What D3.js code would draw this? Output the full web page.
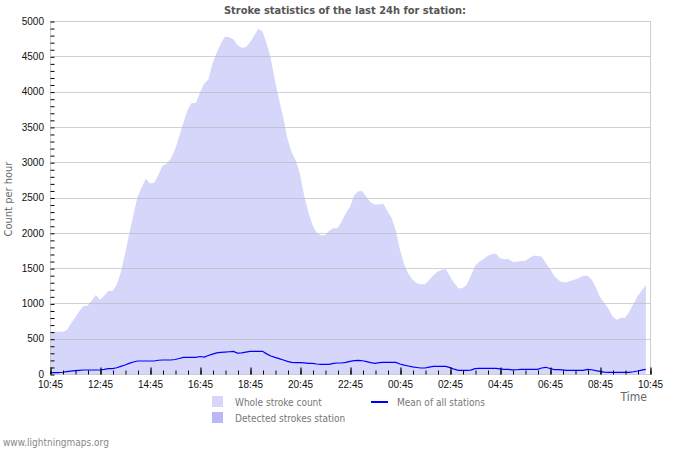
<!DOCTYPE html>
<html>
<head>
<meta charset="utf-8">
<script src="https://cdn.jsdelivr.net/npm/d3@7"></script>
<style>
  body { margin: 0; background: #fff; }
  svg { display: block; font-family: "DejaVu Sans Condensed", "DejaVu Sans", sans-serif; font-stretch: condensed; }
</style>
</head>
<body>
<svg id="chart" width="700" height="450"></svg>
<script>
// 24h window, one value every 10 minutes starting at 10:45
const startTime = new Date(2024, 5, 1, 10, 45);
const stepMinutes = 10;

// Whole stroke count (strokes per hour)
const wholeCount = [
  600, 600, 600, 600, 620, 710, 795, 885, 960, 965,
  1040, 1120, 1050, 1110, 1175, 1175, 1260, 1440, 1700, 1980,
  2250, 2510, 2640, 2770, 2700, 2710, 2820, 2950, 2980, 3050,
  3180, 3360, 3560, 3740, 3840, 3840, 3990, 4110, 4170, 4400,
  4550, 4680, 4780, 4770, 4740, 4660, 4620, 4630, 4700, 4790,
  4890, 4850, 4680, 4470, 4150, 3880, 3630, 3330, 3140, 3020,
  2830, 2530, 2290, 2110, 2000, 1965, 1965, 2030, 2063, 2063,
  2160, 2280, 2370, 2530, 2590, 2590, 2500, 2430, 2400, 2400,
  2410, 2310, 2210, 2030, 1760, 1550, 1420, 1340, 1290, 1270,
  1270, 1330, 1400, 1450, 1475, 1485, 1380, 1290, 1213, 1213,
  1265, 1390, 1530, 1590, 1625, 1670, 1700, 1705, 1640, 1628,
  1628, 1590, 1590, 1600, 1600, 1640, 1675, 1675, 1660, 1570,
  1490, 1390, 1330, 1300, 1300, 1320, 1340, 1360, 1392, 1392,
  1340, 1230, 1090, 1010, 925, 815, 770, 797, 797, 880,
  990, 1100, 1180, 1260
];

// Detected strokes of the station (none)
const detectedStation = [];

// Mean of all stations
const meanAll = [
  20, 20, 20, 25, 33, 40, 47, 52, 57, 57,
  57, 57, 57, 65, 75, 75, 88, 108, 128, 150,
  170, 184, 184, 184, 184, 184, 195, 198, 198, 198,
  205, 220, 236, 236, 236, 236, 248, 240, 262, 282,
  298, 305, 310, 315, 321, 295, 300, 310, 321, 321,
  321, 321, 285, 255, 235, 218, 198, 178, 165, 160,
  160, 157, 151, 151, 142, 137, 137, 137, 150, 156,
  156, 165, 178, 190, 193, 188, 175, 162, 152, 160,
  165, 165, 165, 165, 142, 125, 113, 100, 92, 85,
  85, 97, 109, 109, 109, 109, 90, 68, 52, 52,
  52, 55, 75, 80, 80, 80, 80, 80, 72, 66,
  66, 58, 60, 66, 66, 66, 66, 66, 85, 95,
  78, 61, 61, 58, 52, 52, 52, 52, 52, 66,
  60, 48, 38, 26, 24, 24, 24, 24, 24, 24,
  32, 42, 55, 66
];

const yTicks = [0, 500, 1000, 1500, 2000, 2500, 3000, 3500, 4000, 4500, 5000];
const legendItems = ["Whole stroke count", "Detected strokes station", "Mean of all stations"];

const svg = d3.select("#chart");
const plotLeft = 50, plotRight = 650, plotTop = 21, plotBottom = 374;

const endTime = d3.timeHour.offset(startTime, 24);
const x = d3.scaleTime().domain([startTime, endTime]).range([plotLeft, plotRight]);
const y = d3.scaleLinear().domain([0, 5000]).range([plotBottom, plotTop]);

const timeOf = i => d3.timeMinute.offset(startTime, i * stepMinutes);
const majorTimes = d3.range(13).map(k => d3.timeHour.offset(startTime, 2 * k));
const minorTimes = d3.range(49).map(k => d3.timeMinute.offset(startTime, 30 * k));

// title
svg.append("text")
  .attr("x", 345).attr("y", 14)
  .attr("text-anchor", "middle")
  .style("font-size", "11px").style("font-weight", "bold")
  .attr("fill", "#555")
  .text("Stroke statistics of the last 24h for station:");

// areas
const area = (data) => d3.area()
  .x((d, i) => x(timeOf(i)))
  .y0(plotBottom)
  .y1(d => y(d))(data);

svg.append("path")
  .attr("d", area(wholeCount))
  .attr("fill", "#d6d6fb");

if (detectedStation.length) {
  svg.append("path")
    .attr("d", area(detectedStation))
    .attr("fill", "#b8b8f8");
}

// grid lines
svg.append("g")
  .selectAll("line")
  .data(yTicks.filter(d => d > 0))
  .join("line")
  .attr("x1", plotLeft).attr("x2", plotRight)
  .attr("y1", d => Math.round(y(d)) + 0.5)
  .attr("y2", d => Math.round(y(d)) + 0.5)
  .attr("stroke", "#b4b4b4")
  .attr("stroke-opacity", 0.6);

// frame
svg.append("rect")
  .attr("x", plotLeft + 0.5).attr("y", plotTop + 0.5)
  .attr("width", plotRight - plotLeft).attr("height", plotBottom - plotTop)
  .attr("fill", "none")
  .attr("stroke", "#ccc");

// mean line
svg.append("path")
  .attr("d", d3.line().x((d, i) => x(timeOf(i))).y(d => y(d))(meanAll))
  .attr("fill", "none")
  .attr("stroke", "#0000ff")
  .attr("stroke-width", 1.2);

// y axis labels
const yAxis = svg.append("g")
  .attr("transform", `translate(${plotLeft},0)`)
  .call(d3.axisLeft(y).tickValues(yTicks).tickSize(0).tickPadding(6).tickFormat(d3.format("d")));
yAxis.select(".domain").remove();
yAxis.selectAll("text").style("font-size", "10px").attr("fill", "#111");

// y minor ticks, pointing into the plot
const yMinor = svg.append("g")
  .attr("transform", `translate(${plotLeft + 0.5},0.5)`)
  .call(d3.axisRight(y).tickValues(d3.range(0, 5001, 100)).tickSize(4).tickFormat(""));
yMinor.select(".domain").remove();
yMinor.selectAll("line").attr("stroke", "#000");

// x ticks, pointing up into the plot
const xMinor = svg.append("g")
  .attr("transform", `translate(0.5,${plotBottom + 0.5})`)
  .call(d3.axisTop(x).tickValues(minorTimes).tickSize(4).tickFormat(""));
xMinor.select(".domain").remove();
xMinor.selectAll("line").attr("stroke", "#000");

const xMajor = svg.append("g")
  .attr("transform", `translate(0.5,${plotBottom + 0.5})`)
  .call(d3.axisTop(x).tickValues(majorTimes).tickSize(7).tickFormat(""));
xMajor.select(".domain").remove();
xMajor.selectAll("line").attr("stroke", "#000").attr("stroke-width", 1.2);

// x labels
const xAxis = svg.append("g")
  .attr("transform", `translate(0,${plotBottom})`)
  .call(d3.axisBottom(x).tickValues(majorTimes).tickSize(0).tickPadding(7)
    .tickFormat(d3.timeFormat("%H:%M")));
xAxis.select(".domain").remove();
xAxis.selectAll("text").style("font-size", "10px").attr("fill", "#111");

// axis titles
svg.append("text")
  .attr("transform", "translate(12,199) rotate(-90)")
  .attr("text-anchor", "middle")
  .style("font-size", "11px")
  .attr("fill", "#666")
  .text("Count per hour");

svg.append("text")
  .attr("x", 647).attr("y", 401)
  .attr("text-anchor", "end")
  .style("font-size", "12px")
  .attr("fill", "#666")
  .text("Time");

// legend
const legend = svg.append("g").style("font-size", "10px").attr("fill", "#777");
legend.append("rect").attr("x", 212).attr("y", 396).attr("width", 11).attr("height", 11).attr("fill", "#d6d6fb");
legend.append("text").attr("x", 235).attr("y", 406).text(legendItems[0]);
legend.append("rect").attr("x", 212).attr("y", 412).attr("width", 11).attr("height", 11).attr("fill", "#b8b8f8");
legend.append("text").attr("x", 235).attr("y", 422).text(legendItems[1]);
legend.append("line").attr("x1", 371).attr("x2", 388).attr("y1", 402).attr("y2", 402)
  .attr("stroke", "#0000ff").attr("stroke-width", 2);
legend.append("text").attr("x", 397).attr("y", 406).text(legendItems[2]);

// footer
svg.append("text")
  .attr("x", 3).attr("y", 446)
  .style("font-size", "10px")
  .attr("fill", "#888")
  .text("www.lightningmaps.org");
</script>
</body>
</html>
